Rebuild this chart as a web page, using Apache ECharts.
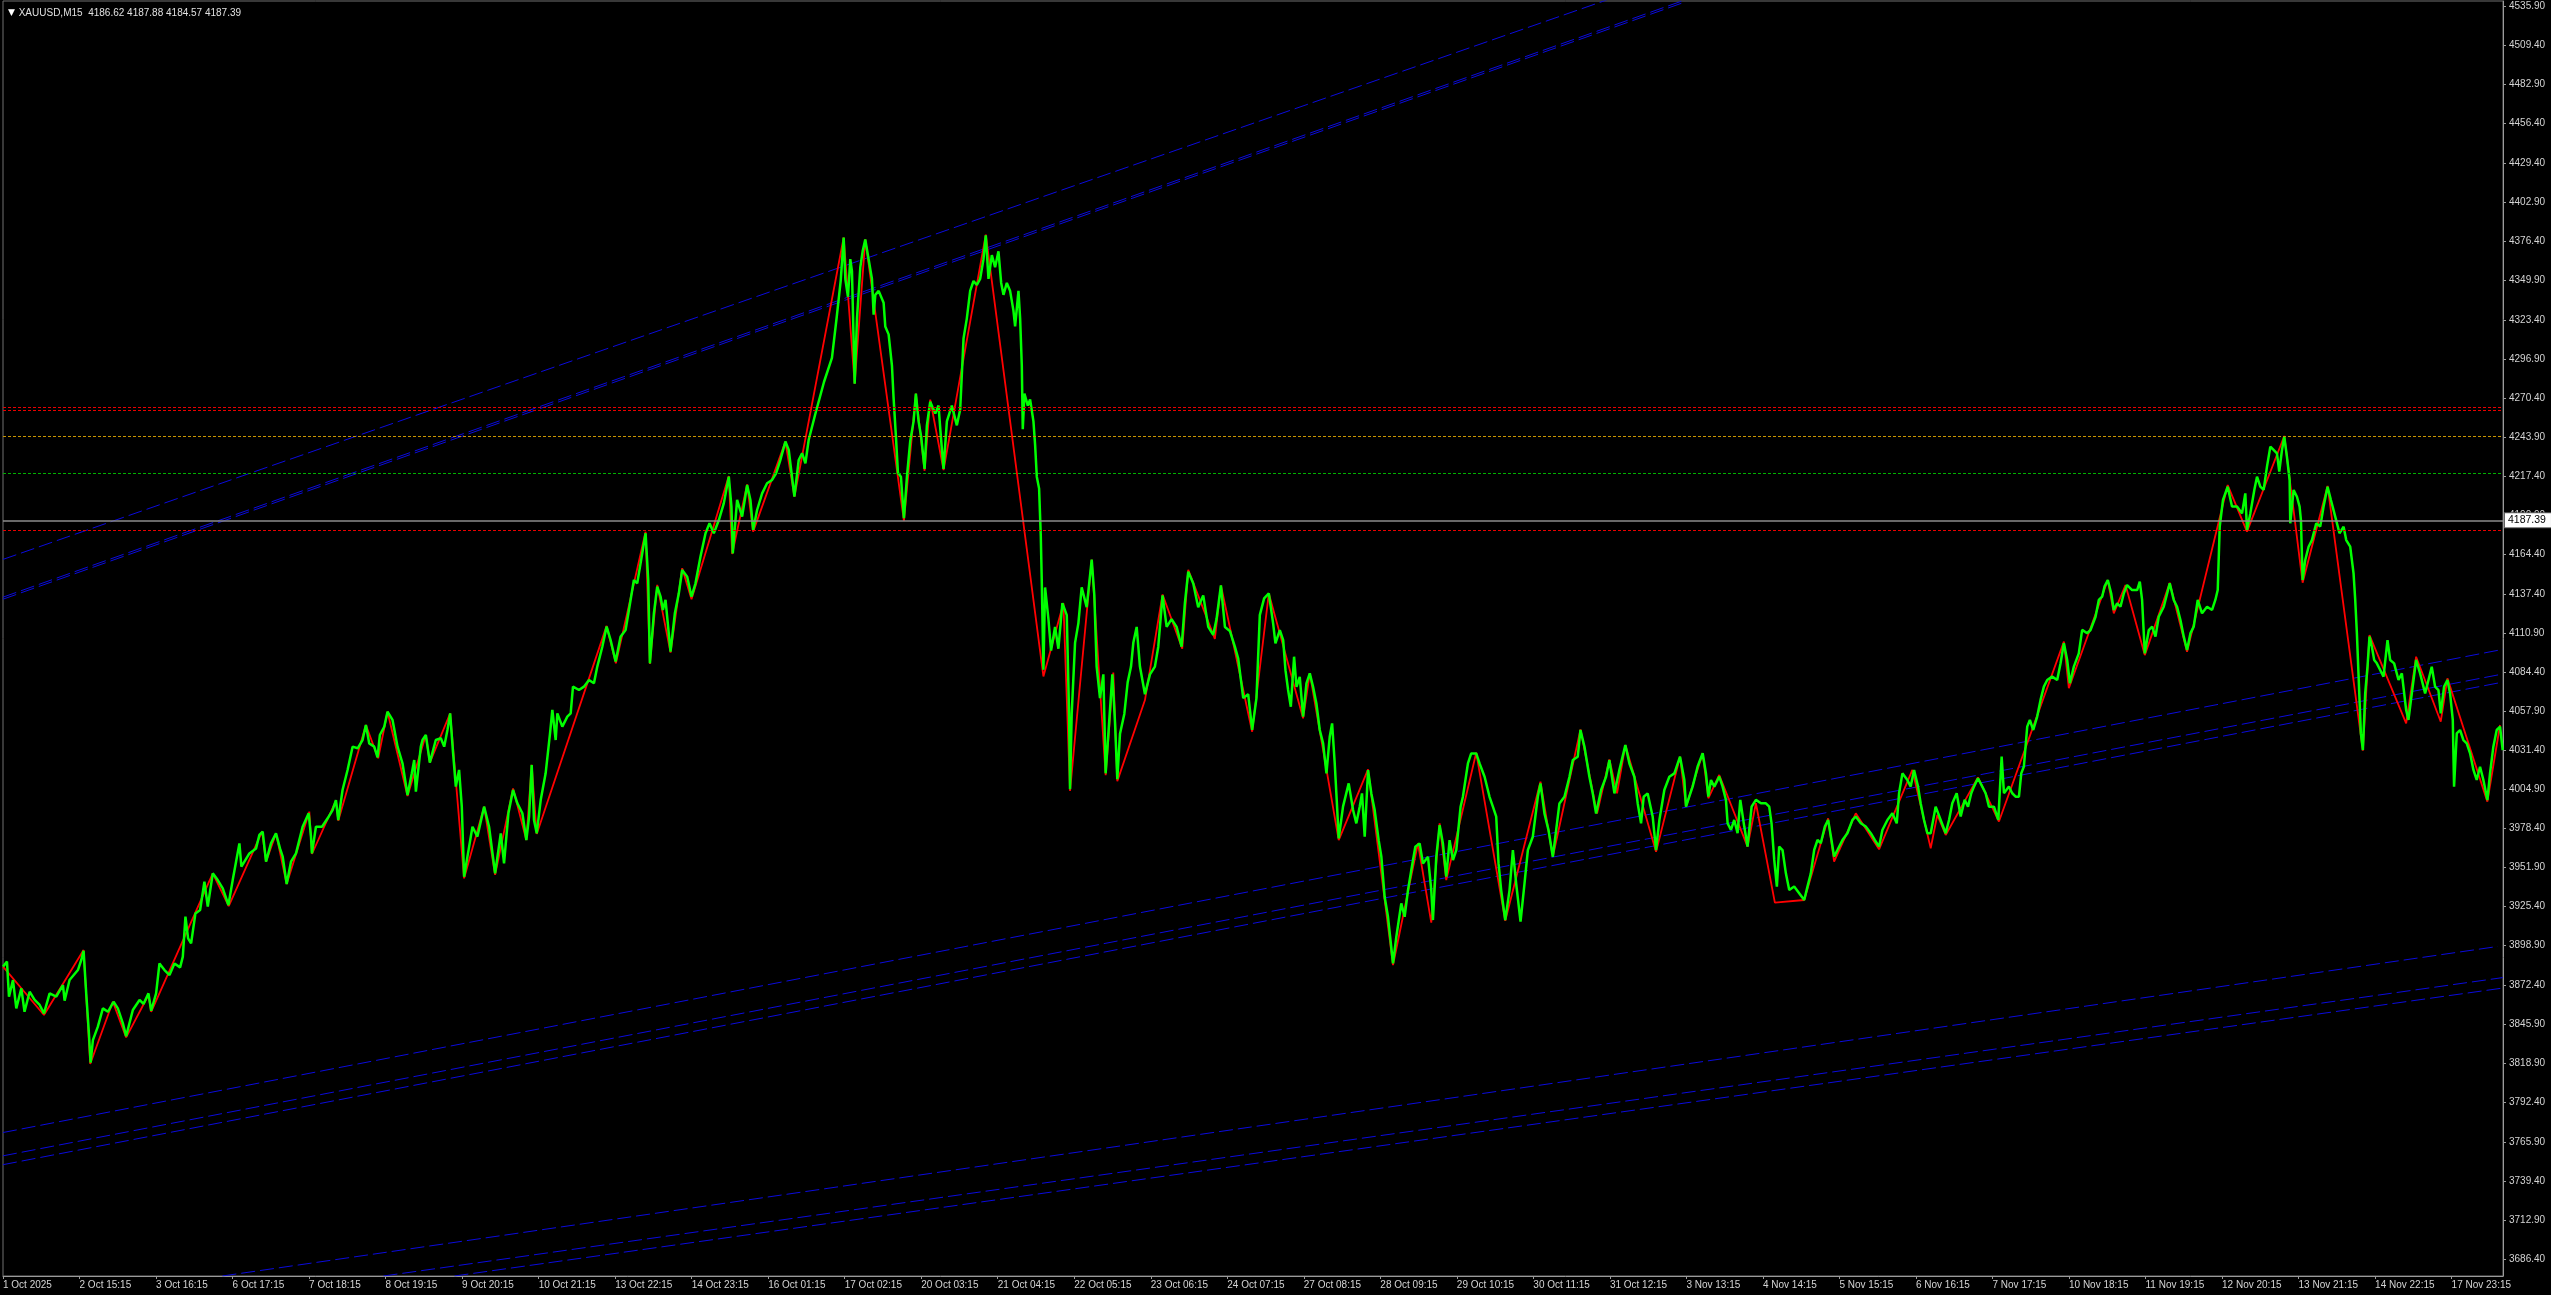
<!DOCTYPE html>
<html>
<head>
<meta charset="utf-8">
<script src="https://cdn.jsdelivr.net/npm/echarts@6/dist/echarts.min.js"></script>
<style>
html,body{margin:0;padding:0;background:#000;}
#chart{width:2551px;height:1295px;}
</style>
</head>
<body>
<div id="chart"></div>
<script>
// ---- time axis labels (one every 96 M15 bars) ----
const timeLabels = ['1 Oct 2025','2 Oct 15:15','3 Oct 16:15','6 Oct 17:15','7 Oct 18:15','8 Oct 19:15','9 Oct 20:15','10 Oct 21:15','13 Oct 22:15','14 Oct 23:15','16 Oct 01:15','17 Oct 02:15','20 Oct 03:15','21 Oct 04:15','22 Oct 05:15','23 Oct 06:15','24 Oct 07:15','27 Oct 08:15','28 Oct 09:15','29 Oct 10:15','30 Oct 11:15','31 Oct 12:15','3 Nov 13:15','4 Nov 14:15','5 Nov 15:15','6 Nov 16:15','7 Nov 17:15','10 Nov 18:15','11 Nov 19:15','12 Nov 20:15','13 Nov 21:15','14 Nov 22:15','17 Nov 23:15'];
const barsPerLabel = 96;
// ---- price axis tick labels ----
const priceTicks = [3686.40,3712.90,3739.40,3765.90,3792.40,3818.90,3845.90,3872.40,3898.90,3925.40,3951.90,3978.40,4004.90,4031.40,4057.90,4084.40,4110.90,4137.40,4164.40,4190.90,4217.40,4243.90,4270.40,4296.90,4323.40,4349.90,4376.40,4402.90,4429.40,4456.40,4482.90,4509.40,4535.90];
const headerSymbol = 'XAUUSD,M15';
const headerPrices = '4186.62 4187.88 4184.57 4187.39';
const currentPrice = 4187.39;
// ---- horizontal levels ----
const redLevels = [4264.1, 4262.2, 4180.6];
const orangeLevel = 4244.1;
const greenLevel = 4219.0;
// ---- trend lines [bar, price] ----
const trendUpperA = [[0,4160.9],[2012.1,4540.3]];
const trendUpperB1 = [[0,4135.3],[2110.2,4540.3]];
const trendUpperB2 = [[0,4133.9],[2110.2,4538.9]];
const trendMid1 = [[0,3772.2],[3136.5,4099.9]];
const trendMid2 = [[0,3756.4],[3136.5,4083.2]];
const trendMid3 = [[0,3750.4],[3136.5,4077.7]];
const trendLow1 = [[275.3,3674.9],[3130,3898.4]];
const trendLow2 = [[477.4,3674.9],[3136.5,3877.3]];
const trendLow3 = [[566.4,3674.9],[3136.5,3870.2]];
// ---- zigzag [bar, price] ----
const zigzag = [[0,3884.7],[51.4,3851.9],[101.1,3896.0],[109.4,3818.7],[137.8,3860.9],[154.5,3836.7],[182.5,3865.5],[185.9,3854.1],[263.2,3948.0],[283.2,3925.8],[325.0,3976.2],[330.0,3955.9],[342.5,3975.1],[355.9,3940.7],[384.3,3989.8],[387.6,3961.1],[417.7,3997.3],[420.6,3983.7],[455.3,4048.6],[470.7,4026.0],[482.4,4057.6],[507.5,4000.4],[530.5,4041.8],[535.5,4023.1],[561.0,4056.5],[578.5,3944.6],[603.6,3993.2],[617.4,3946.9],[639.9,4005.6],[656.6,3970.6],[663.3,4021.5],[669.6,3974.7],[757.3,4115.8],[768.9,4090.4],[806.2,4179.7],[811.6,4090.0],[820.8,4143.6],[837.5,4097.7],[852.1,4154.9],[863.8,4133.8],[910.6,4217.5],[914.8,4164.6],[933.6,4211.8],[941.1,4179.7],[981.6,4240.8],[992.9,4203.5],[1054.7,4379.2],[1068.5,4280.0],[1081.8,4377.9],[1130.3,4187.0],[1145.3,4273.3],[1156.2,4221.0],[1163.3,4269.3],[1180.0,4221.5],[1233.0,4381.1],[1305.3,4081.5],[1330.4,4131.2],[1338.7,4003.8],[1365.9,4160.7],[1383.4,4014.5],[1393.0,4084.2],[1398.0,4010.5],[1432.7,4065.5],[1454.8,4137.1],[1479.5,4100.3],[1487.0,4153.9],[1520.4,4107.0],[1528.0,4143.2],[1567.2,4044.0],[1588.1,4137.8],[1631.1,4053.1],[1639.5,4083.6],[1675.8,3970.5],[1712.6,4018.5],[1743.9,3885.8],[1775.2,3968.3],[1791.9,3914.5],[1802.4,3981.9],[1810.7,3943.4],[1848.3,4029.8],[1884.7,3915.8],[1928.9,4010.1],[1944.4,3959.2],[1979.1,4045.6],[1999.9,3988.6],[2015.4,4025.3],[2025.0,4002.2],[2035.4,4035.0],[2073.9,3962.6],[2104.0,4027.1],[2111.5,3993.2],[2132.4,4029.4],[2139.5,3998.9],[2153.2,4014.7],[2188.7,3966.1],[2199.2,3995.5],[2223.0,3928.1],[2259.8,3929.9],[2289.8,3985.3],[2297.3,3955.9],[2324.5,3988.7],[2353.7,3964.3],[2395.5,4018.1],[2418.5,3965.0],[2426.8,3987.6],[2437.3,3974.0],[2477.8,4013.1],[2504.1,3983.1],[2585.6,4105.1],[2591.8,4073.5],[2640.7,4146.9],[2648.2,4124.3],[2662.9,4143.5],[2687.1,4096.0],[2718.4,4145.1],[2740.1,4098.3],[2791.1,4211.3],[2815.3,4179.7],[2862.1,4244.6],[2885.1,4145.1],[2916.4,4210.7],[2960.7,4031.2],[2969.0,4109.6],[3015.0,4049.7],[3027.5,4094.9],[3058.4,4050.8],[3066.8,4080.2],[3116.9,3996.6],[3132.8,4048.6]];
// ---- close prices [bar, price] ----
const closeLine = [[0,3884.7],[5,3888.1],[7.5,3864.3],[12.5,3875.6],[16.7,3856.4],[23,3870.0],[27,3854.1],[33.4,3867.7],[39.7,3862.1],[46,3858.7],[51.4,3853.0],[58.5,3866.6],[66.8,3864.3],[75.2,3872.2],[77.3,3861.6],[83.5,3875.6],[94,3882.4],[98.2,3889.2],[101.1,3895.5],[104.4,3866.6],[107.8,3839.5],[109.9,3819.6],[112.8,3834.9],[119,3844.0],[125.3,3856.4],[131.6,3854.1],[138.7,3860.9],[144.1,3856.4],[150.4,3846.2],[154.5,3837.6],[162.9,3855.3],[171.3,3862.1],[176.3,3859.4],[182.5,3866.6],[185.9,3854.8],[192.1,3866.6],[196.3,3886.9],[202.6,3882.4],[208.9,3879.0],[215.1,3886.9],[222.2,3884.2],[225.6,3891.5],[228.9,3918.6],[232.2,3903.9],[236,3900.5],[241.4,3920.8],[247.3,3923.1],[252.7,3942.3],[256.9,3925.4],[263.2,3948.0],[269.4,3943.4],[275.7,3937.8],[282.8,3926.5],[288.2,3943.4],[292.4,3955.9],[296.6,3968.3],[299.1,3952.5],[309.1,3961.5],[317.5,3964.9],[321.6,3974.0],[325.8,3976.2],[330,3955.9],[336.2,3968.3],[342.5,3975.1],[347.5,3964.9],[350.9,3959.3],[355.9,3940.7],[361.3,3955.9],[367.6,3961.5],[375.9,3979.6],[383.5,3988.7],[386.4,3972.8],[387.6,3961.5],[392.6,3979.6],[400.2,3979.6],[407.3,3985.3],[413.5,3990.9],[417.7,3997.7],[420.6,3984.1],[426,4004.5],[432.3,4018.1],[438.6,4033.9],[444.9,4032.8],[451.1,4038.4],[455.3,4048.6],[459.5,4036.1],[465.7,4033.9],[469.9,4026.6],[472.8,4041.8],[478.3,4047.4],[482.4,4057.6],[488.7,4052.0],[495,4033.9],[501.2,4022.6],[507.5,4001.1],[512.9,4015.8],[515.9,4024.8],[518,4003.4],[524.2,4033.9],[526.3,4038.4],[530.5,4041.8],[535.5,4023.1],[543,4038.4],[549.3,4039.6],[553.5,4033.9],[557.6,4045.2],[561,4056.5],[564.7,4029.4],[568.1,4006.8],[572.2,4018.1],[575.6,3993.2],[578.5,3945.7],[582.7,3959.3],[589,3979.6],[595.2,3972.9],[603.6,3993.2],[609.8,3979.6],[617.4,3948.0],[624.5,3975.1],[628.6,3954.8],[634.1,3988.7],[639.9,4004.5],[645.3,3995.5],[651.6,3988.7],[656.6,3970.6],[660,3986.4],[663.3,4021.5],[666.2,3984.2],[669.6,3975.1],[674.6,3997.7],[680.8,4015.8],[686.3,4042.9],[689.2,4058.8],[693.4,4038.4],[695.5,4056.5],[701.7,4047.5],[708,4054.3],[712.2,4056.5],[715.1,4074.6],[722.6,4072.3],[728.9,4074.6],[735.2,4079.1],[741.4,4076.9],[745.6,4088.2],[751.9,4101.7],[757.3,4115.3],[762.3,4106.2],[768.6,4091.6],[774.8,4108.5],[781.1,4113.0],[785.3,4126.6],[791.5,4146.9],[795.7,4144.7],[802,4165.0],[806.2,4178.6],[809.5,4146.9],[811.6,4090.4],[816.6,4124.3],[820.8,4142.4],[825,4135.6],[827.9,4126.6],[831.2,4133.4],[837.5,4098.3],[842.9,4124.3],[847.9,4137.9],[852.1,4153.7],[858.4,4149.2],[863.8,4135.6],[868.8,4144.7],[875.1,4162.8],[881.4,4178.6],[886.4,4185.4],[891.8,4178.6],[898.1,4187.6],[904.3,4198.9],[910.6,4217.0],[913.9,4196.7],[915.6,4165.0],[921,4201.2],[927.3,4189.9],[933.6,4211.4],[937.7,4201.2],[941.1,4180.9],[946.1,4194.4],[952.4,4205.7],[958.6,4212.5],[964.9,4214.8],[969.9,4219.3],[975.3,4228.3],[981.6,4240.8],[985.8,4235.1],[992.9,4203.5],[998.3,4228.3],[1002.5,4232.9],[1006.7,4226.1],[1010.8,4241.9],[1018.8,4258.8],[1030,4281.2],[1040,4297.5],[1046,4325.3],[1051,4350.0],[1054.7,4379.2],[1056.8,4351.1],[1060.1,4339.0],[1063,4364.5],[1065.1,4356.4],[1068.5,4280.0],[1071.4,4324.2],[1075.6,4359.1],[1078.5,4369.8],[1081.8,4377.9],[1086,4364.5],[1090.2,4351.1],[1092.3,4326.9],[1094.4,4340.3],[1098.6,4343.0],[1104.8,4335.0],[1106.9,4318.9],[1111.1,4313.5],[1115.3,4292.1],[1117.3,4270.6],[1120.3,4243.8],[1122.8,4219.7],[1126.5,4217.0],[1130.3,4188.8],[1134.1,4217.0],[1138.2,4241.1],[1142.4,4254.5],[1145.3,4273.3],[1148.7,4254.5],[1152,4243.8],[1156.2,4222.3],[1159.1,4251.8],[1163.3,4267.9],[1169.6,4259.9],[1173.7,4265.2],[1176.7,4243.8],[1180,4222.3],[1184.2,4254.5],[1190.4,4265.2],[1196.7,4251.8],[1200.9,4262.6],[1205.1,4310.8],[1209.2,4324.2],[1213.4,4343.0],[1217.6,4349.7],[1221.8,4347.0],[1225.9,4351.1],[1230.1,4364.5],[1233,4380.6],[1236.4,4351.1],[1240.6,4367.2],[1244.7,4359.1],[1248.9,4369.8],[1252.3,4348.4],[1255.2,4340.3],[1259.4,4348.4],[1263.5,4343.0],[1267.7,4329.6],[1269.8,4318.9],[1274,4343.0],[1276.1,4324.2],[1278.2,4292.1],[1279.4,4249.2],[1281.5,4273.3],[1285.7,4265.2],[1288.6,4269.3],[1292.8,4254.5],[1294.9,4238.4],[1297,4217.0],[1299.9,4208.9],[1302,4176.7],[1303.2,4147.2],[1305.3,4086.0],[1307.4,4141.9],[1311.6,4120.4],[1314.9,4099.0],[1319.9,4115.1],[1324.1,4100.3],[1329.1,4131.2],[1334.6,4123.1],[1337.5,4056.1],[1338.7,4005.1],[1340.8,4056.1],[1345,4104.3],[1349.2,4117.7],[1353.3,4141.9],[1359.6,4128.5],[1365.9,4160.7],[1369.2,4136.5],[1372.1,4088.2],[1376.3,4066.8],[1380.5,4082.9],[1383.4,4015.8],[1386.8,4042.7],[1391.8,4082.9],[1395.1,4050.7],[1398,4011.8],[1401.4,4042.7],[1406.8,4056.1],[1411,4077.5],[1415.2,4088.2],[1418.1,4104.3],[1422.3,4115.1],[1426.4,4088.2],[1432.7,4069.5],[1439,4082.9],[1445.2,4088.2],[1449.4,4101.7],[1454.8,4136.5],[1459.9,4115.1],[1466.1,4120.4],[1472.4,4115.1],[1478.7,4101.7],[1482.8,4131.2],[1487,4152.6],[1493.3,4144.6],[1499.5,4128.5],[1505.8,4136.5],[1512.1,4115.1],[1518.3,4109.7],[1522.5,4120.4],[1528,4143.2],[1533,4115.1],[1539.2,4112.4],[1545.5,4101.7],[1549.7,4093.6],[1556,4066.8],[1562.2,4069.5],[1567.2,4045.3],[1572.6,4066.8],[1576.8,4123.1],[1582.2,4134.5],[1588.1,4137.8],[1593.5,4117.5],[1596.4,4103.9],[1601.9,4113.0],[1606.1,4106.2],[1609,4085.8],[1612.3,4072.3],[1615.7,4061.0],[1619.8,4094.9],[1622.8,4074.5],[1626.9,4081.3],[1631.1,4054.2],[1635.3,4076.8],[1639.5,4083.6],[1643.6,4074.5],[1647.8,4063.2],[1652,4045.2],[1656.2,4036.1],[1660.4,4015.8],[1664.5,4040.6],[1667.5,4049.7],[1670.8,4022.5],[1673.3,3997.7],[1675.8,3971.7],[1681.2,3993.2],[1688.3,4009.0],[1693.8,3990.9],[1697.9,3981.9],[1702.1,3993.2],[1705,4002.2],[1708.4,3972.8],[1712.6,4018.0],[1716.7,4002.2],[1720.9,3990.9],[1725.9,3970.5],[1729.3,3959.2],[1733.4,3932.1],[1737.6,3918.5],[1743.9,3886.9],[1748.1,3905.0],[1754.3,3927.6],[1758.5,3918.5],[1762.7,3936.6],[1766.9,3950.2],[1771.9,3966.0],[1777.3,3968.3],[1781.5,3954.7],[1787.8,3959.2],[1791.9,3936.6],[1794,3916.3],[1798.2,3959.2],[1802.4,3980.7],[1806.5,3968.3],[1810.7,3945.7],[1814.9,3970.5],[1819.1,3957.0],[1823.3,3963.8],[1828.7,3993.2],[1831.6,3999.9],[1837.9,4022.5],[1842,4029.3],[1848.3,4029.3],[1852.5,4022.5],[1858.8,4013.5],[1865,3999.9],[1869.2,3993.2],[1873.4,3986.4],[1876.3,3954.7],[1879.6,3936.6],[1884.7,3916.3],[1890.1,3936.6],[1894.3,3963.8],[1898.4,3941.2],[1903.9,3915.2],[1908.9,3941.2],[1913.1,3963.8],[1919.3,3972.8],[1925.6,3999.9],[1928.9,4009.0],[1933.9,3988.6],[1939,3977.3],[1944.4,3959.2],[1948.6,3977.3],[1952.7,3995.4],[1959,3999.9],[1965.3,4013.5],[1969.5,4024.8],[1975.7,4027.1],[1979.1,4045.2],[1984.1,4033.8],[1990.3,4013.5],[1994.5,4002.2],[1998.7,3988.6],[2005,4004.5],[2011.2,4013.5],[2015.4,4024.8],[2021.7,4002.2],[2027.9,4018.0],[2035.4,4035.0],[2040.5,4022.5],[2046.7,4013.5],[2050.9,3995.4],[2055.1,3981.9],[2058.4,3999.9],[2063.4,4002.2],[2069.7,3986.4],[2073.9,3963.8],[2078.1,3984.1],[2084.3,4004.5],[2090.6,4013.5],[2096.9,4015.8],[2104,4027.1],[2109.4,4011.3],[2111.5,3993.2],[2115.6,4000.0],[2119.8,4006.8],[2126.1,4020.4],[2132.4,4029.4],[2136.5,4015.8],[2139.5,4000.0],[2142.8,4011.3],[2147,4006.8],[2153.2,4013.6],[2157.4,4006.8],[2161.6,3997.8],[2163.7,3981.9],[2167.9,3977.4],[2172,3984.2],[2176.2,3975.2],[2179.6,3997.8],[2184.6,3979.7],[2188.7,3966.1],[2193.8,3993.2],[2199.2,3997.8],[2205.5,3995.5],[2211.7,3995.5],[2215.9,3993.2],[2218.8,3981.9],[2222.2,3957.1],[2225.5,3939.0],[2228.4,3966.1],[2232.6,3963.8],[2236.8,3948.0],[2241,3936.7],[2247.2,3939.0],[2253.5,3934.5],[2259.8,3929.9],[2263.9,3939.0],[2268.1,3948.0],[2272.3,3963.8],[2276.5,3970.6],[2280.6,3968.4],[2285.7,3979.7],[2289.8,3984.2],[2294,3970.6],[2297.3,3959.3],[2301.5,3963.8],[2307.8,3970.6],[2314,3975.2],[2320.3,3984.2],[2324.5,3986.5],[2330.8,3981.9],[2337,3979.7],[2343.3,3975.2],[2348.3,3970.6],[2353.7,3966.1],[2357.9,3977.4],[2364.2,3984.2],[2370.4,3988.7],[2375.9,3981.9],[2378.8,4002.3],[2383,4015.8],[2389.2,4011.3],[2393.4,4006.8],[2397.6,4018.1],[2402.6,4006.8],[2405.9,3995.5],[2410.1,3984.2],[2414.3,3975.2],[2418.5,3975.2],[2424.7,3993.2],[2431,3984.2],[2437.3,3975.2],[2441.5,3984.2],[2445.6,3995.5],[2451.1,4002.3],[2456.1,3986.5],[2461.1,3997.8],[2465.3,3993.2],[2469.4,4002.3],[2472.8,4006.8],[2477.8,4012.5],[2483.2,4006.8],[2487.4,4002.3],[2491.6,3993.2],[2497.8,3993.2],[2503.3,3984.2],[2507.5,4027.1],[2510.4,4002.3],[2516.6,4006.8],[2520.8,4002.3],[2525,4000.0],[2529.2,4000.0],[2532.1,4015.8],[2535.4,4020.4],[2539.6,4047.5],[2542.9,4052.0],[2547.1,4045.2],[2552.1,4054.3],[2556.3,4065.6],[2560.5,4074.6],[2564.7,4079.1],[2570.9,4081.4],[2577.2,4079.1],[2581.4,4090.5],[2585.6,4104.0],[2589.7,4092.7],[2593.1,4076.9],[2598.1,4088.2],[2604.3,4097.2],[2608.5,4113.1],[2614.8,4110.8],[2619,4113.0],[2625.3,4122.0],[2629.4,4133.4],[2633.6,4135.6],[2636.5,4142.4],[2640.7,4146.9],[2644.9,4137.9],[2648.2,4126.6],[2652.4,4131.1],[2656.6,4128.8],[2660.8,4137.9],[2664.9,4143.5],[2671.2,4140.1],[2677.5,4140.1],[2680.8,4145.8],[2683.7,4133.4],[2687.1,4097.2],[2692.1,4113.0],[2696.3,4115.3],[2700.5,4108.5],[2704.6,4122.0],[2710.9,4128.8],[2718.4,4144.7],[2723.4,4133.4],[2727.6,4128.8],[2731.8,4119.8],[2736,4108.5],[2740.1,4099.4],[2744.3,4110.7],[2748.5,4115.3],[2753.5,4133.4],[2758.9,4124.3],[2765.2,4128.8],[2771.5,4126.6],[2775.6,4133.4],[2778.6,4140.1],[2781.1,4183.1],[2785.2,4201.2],[2791.1,4210.2],[2796.5,4196.7],[2802.8,4196.7],[2809.1,4192.1],[2813.2,4205.7],[2815.3,4180.8],[2819.5,4192.1],[2824.5,4208.0],[2827.9,4217.0],[2832,4210.2],[2836.2,4208.0],[2840.4,4223.8],[2844.6,4237.3],[2848.7,4235.1],[2852.9,4232.8],[2855.8,4220.4],[2859.2,4235.1],[2862.1,4244.1],[2865.4,4230.6],[2868.8,4214.7],[2869.6,4185.4],[2873.8,4208.0],[2878,4203.4],[2881.3,4196.7],[2883,4187.6],[2885.1,4146.9],[2888.4,4160.5],[2892.6,4169.5],[2896.8,4174.0],[2902.2,4185.4],[2907.2,4183.1],[2911.4,4196.7],[2916.4,4210.2],[2920.6,4201.2],[2926,4189.9],[2931.4,4178.6],[2936.5,4183.1],[2939.8,4174.0],[2944.8,4169.5],[2949,4151.4],[2951.1,4133.4],[2953.2,4110.7],[2956.5,4065.5],[2958.2,4042.9],[2960.7,4031.6],[2963.6,4070.0],[2966.5,4088.1],[2969,4108.5],[2972,4101.7],[2974.9,4092.7],[2978.2,4090.4],[2982.4,4085.9],[2986.6,4081.4],[2991.6,4106.2],[2994.9,4092.7],[2999.9,4090.4],[3005.4,4079.1],[3009.6,4083.6],[3015,4058.7],[3017.9,4052.0],[3022.1,4070.0],[3027.5,4092.7],[3032.5,4083.6],[3038.8,4070.0],[3043,4079.1],[3047.1,4088.1],[3051.3,4074.6],[3055.5,4072.3],[3058.4,4056.5],[3062.6,4074.6],[3066.8,4079.1],[3070.1,4070.0],[3073.5,4052.0],[3075.1,4006.7],[3078.5,4042.9],[3082.6,4045.2],[3086.8,4038.4],[3091,4036.1],[3095.2,4029.4],[3099.4,4018.1],[3103.5,4011.3],[3107.7,4020.3],[3111.9,4011.3],[3116.9,3997.7],[3120.2,4015.8],[3124.4,4033.9],[3128.6,4045.2],[3132.8,4047.4],[3136.1,4031.6]];

// ---------------- chart ----------------
const FONT = 'Liberation Sans';
const tickBars = timeLabels.map((_, i) => i * barsPerLabel);
const axisGray = '#9a9a9a';
const textGray = '#d4d4d4';

function trend(data, color) {
  return {
    type: 'line', data: data, symbol: 'none', silent: true, clip: true, z: 1,
    lineStyle: { color: color, width: 1, type: [14, 5] }
  };
}
const blue = '#0b0bdc';

const levelLines = [];
redLevels.forEach(v => levelLines.push({ yAxis: v, lineStyle: { color: '#e80000', type: [3, 2], width: 1 } }));
levelLines.push({ yAxis: orangeLevel, lineStyle: { color: '#c89400', type: [3, 2], width: 1 } });
levelLines.push({ yAxis: greenLevel, lineStyle: { color: '#00b000', type: [3, 2], width: 1 } });
levelLines.push({
  yAxis: currentPrice,
  lineStyle: { color: '#8c8c8c', type: 'solid', width: 1.5 },
  label: {
    show: true, position: 'end', distance: 2, formatter: currentPrice.toFixed(2),
    backgroundColor: '#ffffff', color: '#000000', borderColor: '#606060', borderWidth: 1,
    padding: [2, 5, 1, 3], fontSize: 10.5, fontFamily: FONT
  }
});

const option = {
  backgroundColor: '#000000',
  animation: false,
  title: {
    text: '{t|▼} ' + headerSymbol + '  ' + headerPrices,
    left: 3, top: 3,
    textStyle: {
      color: '#e0e0e0', fontSize: 10, fontFamily: FONT, fontWeight: 'normal',
      rich: { t: { fontSize: 9, fontFamily: 'DejaVu Sans', color: '#ffffff', padding: [0, 1, 0, 0] } }
    }
  },
  grid: { left: 0, right: 48, top: 1, bottom: 19, show: true, borderColor: '#707070', borderWidth: 1 },
  xAxis: {
    type: 'value', min: 0, max: 3136.5,
    splitLine: { show: false },
    axisLine: { show: true, onZero: false, lineStyle: { color: axisGray } },
    axisTick: { show: true, customValues: tickBars, length: 3, lineStyle: { color: axisGray } },
    axisLabel: {
      customValues: tickBars, align: 'left', margin: 4,
      color: textGray, fontSize: 10, fontFamily: FONT,
      formatter: v => timeLabels[Math.round(v / barsPerLabel)] || ''
    }
  },
  yAxis: {
    type: 'value', position: 'right', min: 3674.9, max: 4539.6, scale: true,
    splitLine: { show: false },
    axisLine: { show: true, onZero: false, lineStyle: { color: axisGray } },
    axisTick: { show: true, customValues: priceTicks, length: 3, lineStyle: { color: axisGray } },
    axisLabel: {
      customValues: priceTicks, margin: 6,
      color: textGray, fontSize: 10, fontFamily: FONT,
      formatter: v => v.toFixed(2)
    }
  },
  series: [
    trend(trendUpperA, blue),
    trend(trendUpperB1, blue),
    trend(trendUpperB2, blue),
    trend(trendMid1, blue),
    trend(trendMid2, blue),
    trend(trendMid3, blue),
    trend(trendLow1, blue),
    trend(trendLow2, blue),
    trend(trendLow3, blue),
    {
      type: 'line', data: zigzag, symbol: 'none', silent: true, z: 2,
      lineStyle: { color: '#ff0000', width: 1.8 },
      markLine: { silent: true, symbol: ['none', 'none'], label: { show: false }, animation: false, data: levelLines }
    },
    {
      type: 'line', data: closeLine, symbol: 'none', silent: true, z: 3,
      lineStyle: { color: '#00ff00', width: 2.5 }
    }
  ]
};
const chart = echarts.init(document.getElementById('chart'), null, { renderer: 'canvas' });
chart.setOption(option);
</script>
</body>
</html>
